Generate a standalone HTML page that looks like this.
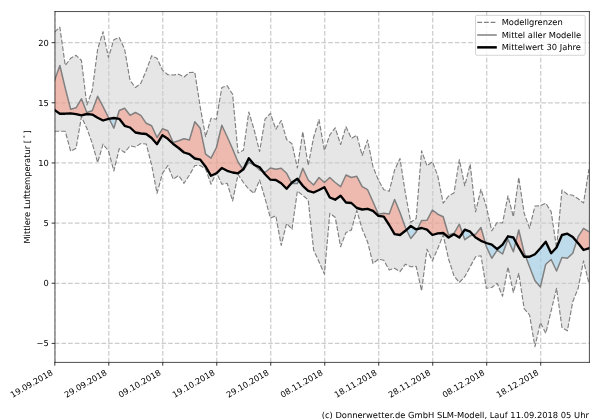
<!DOCTYPE html>
<html lang="de"><head><meta charset="utf-8"><title>Mittlere Lufttemperatur</title>
<style>html,body{margin:0;padding:0;background:#fff;overflow:hidden}svg{display:block}text{text-rendering:geometricPrecision;font-family:"DejaVu Sans", "Liberation Sans", sans-serif;font-size:8.33px;fill:#000}</style>
</head><body>
<svg width="600" height="420" viewBox="0 0 600 420">
<rect x="0" y="0" width="600" height="420" fill="#fff"/>
<defs><clipPath id="ax"><rect x="54.8" y="11.6" width="534.5" height="350.8"/></clipPath></defs>
<g clip-path="url(#ax)">
<polygon points="54.45,32.2 59.85,27.2 65.25,65.5 70.65,58.3 76.05,55.3 81.44,60.5 86.84,105 92.24,90.5 97.64,49.2 103.04,31.7 108.44,57.5 113.84,39.7 119.24,37.5 124.64,49.2 130.04,80.5 135.43,87.5 140.83,83.3 146.23,70.5 151.63,55.8 157.03,58.3 162.43,70 167.83,74.7 173.23,75 178.63,74.2 184.03,77 189.42,72.5 194.82,72.3 200.22,107 205.62,136.7 211.02,118.3 216.42,119.2 221.82,87.5 227.22,85.7 232.62,94.3 238.02,153 243.41,150.3 248.81,112 254.21,130 259.61,151.5 265.01,119.2 270.41,113.3 275.81,129.2 281.21,120.5 286.61,139.5 292.01,143.8 297.4,168 302.8,131.7 308.2,165.3 313.6,137.5 319,119.5 324.4,150.5 329.8,135 335.2,127.8 340.6,144.5 346,126.7 351.39,138.3 356.79,135.3 362.19,155.5 367.59,140 372.99,166.7 378.39,180 383.79,189.7 389.19,191.3 394.59,170 399.99,158.6 405.38,193.3 410.78,222.3 416.18,218.5 421.58,150.8 426.98,165.8 432.38,161.7 437.78,175.8 443.18,203.2 448.58,196 453.98,193 459.37,159.7 464.77,185.8 470.17,164.2 475.57,211.8 480.97,189.2 486.37,206.7 491.77,230.8 497.17,222.5 502.57,223 507.97,195.8 513.36,216.7 518.76,177.5 524.16,213.3 529.56,228.3 534.96,206 540.36,205.8 545.76,203.3 551.16,211.7 556.56,248 561.96,190 567.35,194.2 572.75,195.3 578.15,198.7 583.55,203 588.95,169.2 588.95,283.3 583.55,260.8 578.15,288.3 572.75,301.7 567.35,330.8 561.96,327.5 556.56,288.3 551.16,310.8 545.76,333.3 540.36,322.5 534.96,346.7 529.56,315 524.16,308.7 518.76,273.3 513.36,292.5 507.97,267 502.57,296.2 497.17,283.3 491.77,287.5 486.37,288.3 480.97,255.8 475.57,256.7 470.17,266.7 464.77,276.7 459.37,282.5 453.98,275.8 448.58,259 443.18,235 437.78,248.5 432.38,260.8 426.98,249.2 421.58,290.8 416.18,266.4 410.78,266.7 405.38,264.2 399.99,271.7 394.59,268.3 389.19,270 383.79,260.3 378.39,259.2 372.99,263.5 367.59,242 362.19,229.2 356.79,210.5 351.39,230 346,232.5 340.6,246.7 335.2,217.2 329.8,213.3 324.4,274.1 319,261.7 313.6,250 308.2,200 302.8,195.4 297.4,191 292.01,229.2 286.61,223.3 281.21,245.4 275.81,215.8 270.41,218 265.01,198.3 259.61,180 254.21,193.3 248.81,189.2 243.41,182.5 238.02,174.5 232.62,201 227.22,183.3 221.82,184.2 216.42,172.5 211.02,184.2 205.62,169 200.22,165.5 194.82,165.5 189.42,175 184.03,183.3 178.63,175.5 173.23,179.2 167.83,165.5 162.43,173.5 157.03,193.3 151.63,165 146.23,144 140.83,143.5 135.43,147 130.04,145.8 124.64,152.5 119.24,148.7 113.84,171 108.44,150.8 103.04,144.2 97.64,162.5 92.24,143.3 86.84,128.3 81.44,116.7 76.05,148.3 70.65,151.3 65.25,131.2 59.85,131.2 54.45,131.2" fill="rgb(128,128,128)" fill-opacity="0.2"/>
<path d="M54.8 362.4V11.6M108.79 362.4V11.6M162.78 362.4V11.6M216.77 362.4V11.6M270.76 362.4V11.6M324.75 362.4V11.6M378.74 362.4V11.6M432.73 362.4V11.6M486.72 362.4V11.6M540.71 362.4V11.6M54.8 343.4H589.3M54.8 283.25H589.3M54.8 223.1H589.3M54.8 162.95H589.3M54.8 102.8H589.3M54.8 42.65H589.3" fill="none" stroke="rgb(204,204,204)" stroke-width="1.25" stroke-dasharray="4.65 2.017"/>
<polygon points="54.45,80.8 59.85,65.5 65.25,88.2 70.65,109.2 76.05,107.8 81.44,98.8 86.84,112.5 92.24,110.8 97.64,96.3 103.04,106.7 108.44,117.5 109.05,118.71 109.05,118.71 108.44,118.8 103.04,120.5 97.64,117.8 92.24,114.6 86.84,114 81.44,115.3 76.05,114.1 70.65,113.3 65.25,113.7 59.85,113.7 54.45,110" fill="rgb(246,140,118)" fill-opacity="0.5"/>
<polygon points="109.05,118.71 113.84,128.2 116.82,118.44 116.82,118.44 113.84,118 109.05,118.71" fill="rgb(148,208,240)" fill-opacity="0.5"/>
<polygon points="116.82,118.44 119.24,110.5 124.64,108.3 130.04,115.3 135.43,112.5 140.83,115.4 146.23,123.3 151.63,125.8 157.03,137.5 162.43,128.8 167.83,130.8 173.23,142.5 178.63,140.8 184.03,138.7 189.42,140 194.82,121.7 200.22,128.3 205.62,154.2 211.02,158.2 216.42,147.5 221.82,125.3 227.22,136.7 232.62,149 238.02,162 243.06,169.47 243.06,169.47 238.02,173.3 232.62,172.5 227.22,170.8 221.82,168 216.42,173.3 211.02,175.8 205.62,166.7 200.22,159.6 194.82,158.5 189.42,154.2 184.03,152.5 178.63,148 173.23,144 167.83,138.8 162.43,135.2 157.03,144.2 151.63,138 146.23,134 140.83,133.5 135.43,132.5 130.04,127.5 124.64,125.8 119.24,118.8 116.82,118.44" fill="rgb(246,140,118)" fill-opacity="0.5"/>
<polygon points="243.06,169.47 243.41,170 248.81,162.3 254.21,165 259.61,170 262.92,171.53 262.92,171.53 259.61,167.3 254.21,164.8 248.81,158.3 243.41,169.2 243.06,169.47" fill="rgb(148,208,240)" fill-opacity="0.5"/>
<polygon points="262.92,171.53 265.01,172.5 270.41,168 275.81,169.2 281.21,168.3 286.61,173.3 291.68,182.88 291.68,182.88 286.61,188.8 281.21,183.3 275.81,180 270.41,179.7 265.01,174.2 262.92,171.53" fill="rgb(246,140,118)" fill-opacity="0.5"/>
<polygon points="291.68,182.88 292.01,183.5 297.4,183.5 298.56,180.22 298.56,180.22 297.4,178.7 292.01,182.5 291.68,182.88" fill="rgb(148,208,240)" fill-opacity="0.5"/>
<polygon points="298.56,180.22 302.8,168.2 308.2,180 313.6,185 319,177.5 324.4,182.5 329.8,177.5 335.2,182.5 340.6,186.7 346,175 351.39,177.5 356.79,176.3 362.19,186.7 367.59,189.7 372.99,201.7 378.39,214.2 383.79,213.3 389.19,214 394.59,199.5 399.99,212.5 405.38,227.5 406.51,229.8 406.51,229.8 405.38,230.8 399.99,235 394.59,234.2 389.19,225 383.79,216.7 378.39,215.8 372.99,210.8 367.59,208.8 362.19,209.5 356.79,208 351.39,203 346,202.5 340.6,195.8 335.2,199.7 329.8,197.5 324.4,187.2 319,190 313.6,192.5 308.2,190.8 302.8,185.8 298.56,180.22" fill="rgb(246,140,118)" fill-opacity="0.5"/>
<polygon points="406.51,229.8 410.78,238.5 416.18,232 417.57,229.04 417.57,229.04 416.18,229.4 410.78,226 406.51,229.8" fill="rgb(148,208,240)" fill-opacity="0.5"/>
<polygon points="417.57,229.04 421.58,220.5 426.98,220.3 432.38,210 437.78,214.2 443.18,216.7 448.58,235 453.98,233.3 459.37,224.2 462.46,233.05 462.46,233.05 459.37,237.5 453.98,234.2 448.58,237.5 443.18,233 437.78,233.3 432.38,235 426.98,229.7 421.58,228 417.57,229.04" fill="rgb(246,140,118)" fill-opacity="0.5"/>
<polygon points="462.46,233.05 464.77,239.7 470.17,235.8 473.16,234.91 473.16,234.91 470.17,231.7 464.77,229.7 462.46,233.05" fill="rgb(148,208,240)" fill-opacity="0.5"/>
<polygon points="473.16,234.91 475.57,234.2 480.97,227.5 485.19,242.52 485.19,242.52 480.97,240.8 475.57,237.5 473.16,234.91" fill="rgb(246,140,118)" fill-opacity="0.5"/>
<polygon points="485.19,242.52 486.37,246.7 491.77,258.3 497.17,250.2 502.57,254 507.97,239.2 513.36,251.8 515.79,242 515.79,242 513.36,237.5 507.97,236.3 502.57,244.6 497.17,249.2 491.77,244.7 486.37,243 485.19,242.52" fill="rgb(148,208,240)" fill-opacity="0.5"/>
<polygon points="515.79,242 518.76,230 524.16,252.5 525.76,256.7 525.76,256.7 524.16,256.7 518.76,247.5 515.79,242" fill="rgb(246,140,118)" fill-opacity="0.5"/>
<polygon points="525.76,256.7 529.56,266.7 534.96,280.8 540.36,287 545.76,264.2 551.16,259.5 556.56,271 561.96,257.5 567.35,258.2 572.75,253.3 576.6,241.48 576.6,241.48 572.75,237 567.35,233.7 561.96,235 556.56,247.5 551.16,253.3 545.76,241.7 540.36,248.3 534.96,254.2 529.56,256.7 525.76,256.7" fill="rgb(148,208,240)" fill-opacity="0.5"/>
<polygon points="576.6,241.48 578.15,236.7 583.55,228.3 588.95,231.7 588.95,248.3 583.55,250 578.15,243.3 576.6,241.48" fill="rgb(246,140,118)" fill-opacity="0.5"/>
<polyline points="54.45,32.2 59.85,27.2 65.25,65.5 70.65,58.3 76.05,55.3 81.44,60.5 86.84,105 92.24,90.5 97.64,49.2 103.04,31.7 108.44,57.5 113.84,39.7 119.24,37.5 124.64,49.2 130.04,80.5 135.43,87.5 140.83,83.3 146.23,70.5 151.63,55.8 157.03,58.3 162.43,70 167.83,74.7 173.23,75 178.63,74.2 184.03,77 189.42,72.5 194.82,72.3 200.22,107 205.62,136.7 211.02,118.3 216.42,119.2 221.82,87.5 227.22,85.7 232.62,94.3 238.02,153 243.41,150.3 248.81,112 254.21,130 259.61,151.5 265.01,119.2 270.41,113.3 275.81,129.2 281.21,120.5 286.61,139.5 292.01,143.8 297.4,168 302.8,131.7 308.2,165.3 313.6,137.5 319,119.5 324.4,150.5 329.8,135 335.2,127.8 340.6,144.5 346,126.7 351.39,138.3 356.79,135.3 362.19,155.5 367.59,140 372.99,166.7 378.39,180 383.79,189.7 389.19,191.3 394.59,170 399.99,158.6 405.38,193.3 410.78,222.3 416.18,218.5 421.58,150.8 426.98,165.8 432.38,161.7 437.78,175.8 443.18,203.2 448.58,196 453.98,193 459.37,159.7 464.77,185.8 470.17,164.2 475.57,211.8 480.97,189.2 486.37,206.7 491.77,230.8 497.17,222.5 502.57,223 507.97,195.8 513.36,216.7 518.76,177.5 524.16,213.3 529.56,228.3 534.96,206 540.36,205.8 545.76,203.3 551.16,211.7 556.56,248 561.96,190 567.35,194.2 572.75,195.3 578.15,198.7 583.55,203 588.95,169.2" fill="none" stroke="rgb(128,128,128)" stroke-width="1.15" stroke-dasharray="4.8 1.85" stroke-linejoin="round"/>
<polyline points="54.45,131.2 59.85,131.2 65.25,131.2 70.65,151.3 76.05,148.3 81.44,116.7 86.84,128.3 92.24,143.3 97.64,162.5 103.04,144.2 108.44,150.8 113.84,171 119.24,148.7 124.64,152.5 130.04,145.8 135.43,147 140.83,143.5 146.23,144 151.63,165 157.03,193.3 162.43,173.5 167.83,165.5 173.23,179.2 178.63,175.5 184.03,183.3 189.42,175 194.82,165.5 200.22,165.5 205.62,169 211.02,184.2 216.42,172.5 221.82,184.2 227.22,183.3 232.62,201 238.02,174.5 243.41,182.5 248.81,189.2 254.21,193.3 259.61,180 265.01,198.3 270.41,218 275.81,215.8 281.21,245.4 286.61,223.3 292.01,229.2 297.4,191 302.8,195.4 308.2,200 313.6,250 319,261.7 324.4,274.1 329.8,213.3 335.2,217.2 340.6,246.7 346,232.5 351.39,230 356.79,210.5 362.19,229.2 367.59,242 372.99,263.5 378.39,259.2 383.79,260.3 389.19,270 394.59,268.3 399.99,271.7 405.38,264.2 410.78,266.7 416.18,266.4 421.58,290.8 426.98,249.2 432.38,260.8 437.78,248.5 443.18,235 448.58,259 453.98,275.8 459.37,282.5 464.77,276.7 470.17,266.7 475.57,256.7 480.97,255.8 486.37,288.3 491.77,287.5 497.17,283.3 502.57,296.2 507.97,267 513.36,292.5 518.76,273.3 524.16,308.7 529.56,315 534.96,346.7 540.36,322.5 545.76,333.3 551.16,310.8 556.56,288.3 561.96,327.5 567.35,330.8 572.75,301.7 578.15,288.3 583.55,260.8 588.95,283.3" fill="none" stroke="rgb(128,128,128)" stroke-width="1.15" stroke-dasharray="4.8 1.85" stroke-linejoin="round"/>
<polyline points="54.45,80.8 59.85,65.5 65.25,88.2 70.65,109.2 76.05,107.8 81.44,98.8 86.84,112.5 92.24,110.8 97.64,96.3 103.04,106.7 108.44,117.5 113.84,128.2 119.24,110.5 124.64,108.3 130.04,115.3 135.43,112.5 140.83,115.4 146.23,123.3 151.63,125.8 157.03,137.5 162.43,128.8 167.83,130.8 173.23,142.5 178.63,140.8 184.03,138.7 189.42,140 194.82,121.7 200.22,128.3 205.62,154.2 211.02,158.2 216.42,147.5 221.82,125.3 227.22,136.7 232.62,149 238.02,162 243.41,170 248.81,162.3 254.21,165 259.61,170 265.01,172.5 270.41,168 275.81,169.2 281.21,168.3 286.61,173.3 292.01,183.5 297.4,183.5 302.8,168.2 308.2,180 313.6,185 319,177.5 324.4,182.5 329.8,177.5 335.2,182.5 340.6,186.7 346,175 351.39,177.5 356.79,176.3 362.19,186.7 367.59,189.7 372.99,201.7 378.39,214.2 383.79,213.3 389.19,214 394.59,199.5 399.99,212.5 405.38,227.5 410.78,238.5 416.18,232 421.58,220.5 426.98,220.3 432.38,210 437.78,214.2 443.18,216.7 448.58,235 453.98,233.3 459.37,224.2 464.77,239.7 470.17,235.8 475.57,234.2 480.97,227.5 486.37,246.7 491.77,258.3 497.17,250.2 502.57,254 507.97,239.2 513.36,251.8 518.76,230 524.16,252.5 529.56,266.7 534.96,280.8 540.36,287 545.76,264.2 551.16,259.5 556.56,271 561.96,257.5 567.35,258.2 572.75,253.3 578.15,236.7 583.55,228.3 588.95,231.7" fill="none" stroke="rgb(128,128,128)" stroke-width="1.5" stroke-linejoin="round" stroke-linecap="square"/>
<polyline points="54.45,110 59.85,113.7 65.25,113.7 70.65,113.3 76.05,114.1 81.44,115.3 86.84,114 92.24,114.6 97.64,117.8 103.04,120.5 108.44,118.8 113.84,118 119.24,118.8 124.64,125.8 130.04,127.5 135.43,132.5 140.83,133.5 146.23,134 151.63,138 157.03,144.2 162.43,135.2 167.83,138.8 173.23,144 178.63,148 184.03,152.5 189.42,154.2 194.82,158.5 200.22,159.6 205.62,166.7 211.02,175.8 216.42,173.3 221.82,168 227.22,170.8 232.62,172.5 238.02,173.3 243.41,169.2 248.81,158.3 254.21,164.8 259.61,167.3 265.01,174.2 270.41,179.7 275.81,180 281.21,183.3 286.61,188.8 292.01,182.5 297.4,178.7 302.8,185.8 308.2,190.8 313.6,192.5 319,190 324.4,187.2 329.8,197.5 335.2,199.7 340.6,195.8 346,202.5 351.39,203 356.79,208 362.19,209.5 367.59,208.8 372.99,210.8 378.39,215.8 383.79,216.7 389.19,225 394.59,234.2 399.99,235 405.38,230.8 410.78,226 416.18,229.4 421.58,228 426.98,229.7 432.38,235 437.78,233.3 443.18,233 448.58,237.5 453.98,234.2 459.37,237.5 464.77,229.7 470.17,231.7 475.57,237.5 480.97,240.8 486.37,243 491.77,244.7 497.17,249.2 502.57,244.6 507.97,236.3 513.36,237.5 518.76,247.5 524.16,256.7 529.56,256.7 534.96,254.2 540.36,248.3 545.76,241.7 551.16,253.3 556.56,247.5 561.96,235 567.35,233.7 572.75,237 578.15,243.3 583.55,250 588.95,248.3" fill="none" stroke="#000" stroke-width="2.35" stroke-linejoin="round" stroke-linecap="square"/>
</g>
<path d="M54.8 362.4v3.3M108.79 362.4v3.3M162.78 362.4v3.3M216.77 362.4v3.3M270.76 362.4v3.3M324.75 362.4v3.3M378.74 362.4v3.3M432.73 362.4v3.3M486.72 362.4v3.3M540.71 362.4v3.3M54.95 343.4h-3.3M54.95 283.25h-3.3M54.95 223.1h-3.3M54.95 162.95h-3.3M54.95 102.8h-3.3M54.95 42.65h-3.3" fill="none" stroke="#000" stroke-width="0.8"/>
<path d="M54.95 11.2V362.75M589.4 11.2V362.75M54.6 11.55H589.75M54.6 362.4H589.75" fill="none" stroke="#000" stroke-width="0.7"/>
<text x="48.75" y="346.45" text-anchor="end">−5</text>
<text x="48.75" y="286.3" text-anchor="end">0</text>
<text x="48.75" y="226.15" text-anchor="end">5</text>
<text x="48.75" y="166" text-anchor="end">10</text>
<text x="48.75" y="105.85" text-anchor="end">15</text>
<text x="48.75" y="45.7" text-anchor="end">20</text>
<text text-anchor="end" style="font-size:8.25px" transform="translate(53.5,374.3) rotate(-30)">19.09.2018</text>
<text text-anchor="end" style="font-size:8.25px" transform="translate(107.49,374.3) rotate(-30)">29.09.2018</text>
<text text-anchor="end" style="font-size:8.25px" transform="translate(161.48,374.3) rotate(-30)">09.10.2018</text>
<text text-anchor="end" style="font-size:8.25px" transform="translate(215.47,374.3) rotate(-30)">19.10.2018</text>
<text text-anchor="end" style="font-size:8.25px" transform="translate(269.46,374.3) rotate(-30)">29.10.2018</text>
<text text-anchor="end" style="font-size:8.25px" transform="translate(323.45,374.3) rotate(-30)">08.11.2018</text>
<text text-anchor="end" style="font-size:8.25px" transform="translate(377.44,374.3) rotate(-30)">18.11.2018</text>
<text text-anchor="end" style="font-size:8.25px" transform="translate(431.43,374.3) rotate(-30)">28.11.2018</text>
<text text-anchor="end" style="font-size:8.25px" transform="translate(485.42,374.3) rotate(-30)">08.12.2018</text>
<text text-anchor="end" style="font-size:8.25px" transform="translate(539.41,374.3) rotate(-30)">18.12.2018</text>
<text transform="translate(29.8,243.6) rotate(-90)">Mittlere Lufttemperatur [</text>
<text transform="translate(25.9,138.6) rotate(-90)" style="font-size:5.83px">∘</text>
<text transform="translate(29.8,133.45) rotate(-90)">]</text>
<text x="588.9" y="418.1" text-anchor="end" style="font-size:8.357px">(c) Donnerwetter.de GmbH SLM-Modell, Lauf 11.09.2018 05 Uhr</text>
<rect x="475.5" y="15.4" width="109.7" height="39.85" rx="1.4" ry="1.4" fill="#fff" fill-opacity="0.8" stroke="rgb(204,204,204)" stroke-width="0.83"/>
<path d="M477.3 22.3H496.6" fill="none" stroke="rgb(128,128,128)" stroke-width="1.15" stroke-dasharray="4.8 1.85"/>
<path d="M477.2 35H496.8" fill="none" stroke="rgb(128,128,128)" stroke-width="1.5"/>
<path d="M477.2 47.35H496.8" fill="none" stroke="#000" stroke-width="2.5"/>
<text x="501.7" y="25.35">Modellgrenzen</text>
<text x="501.7" y="38.05">Mittel aller Modelle</text>
<text x="501.7" y="50.35">Mittelwert 30 Jahre</text>
</svg></body></html>
